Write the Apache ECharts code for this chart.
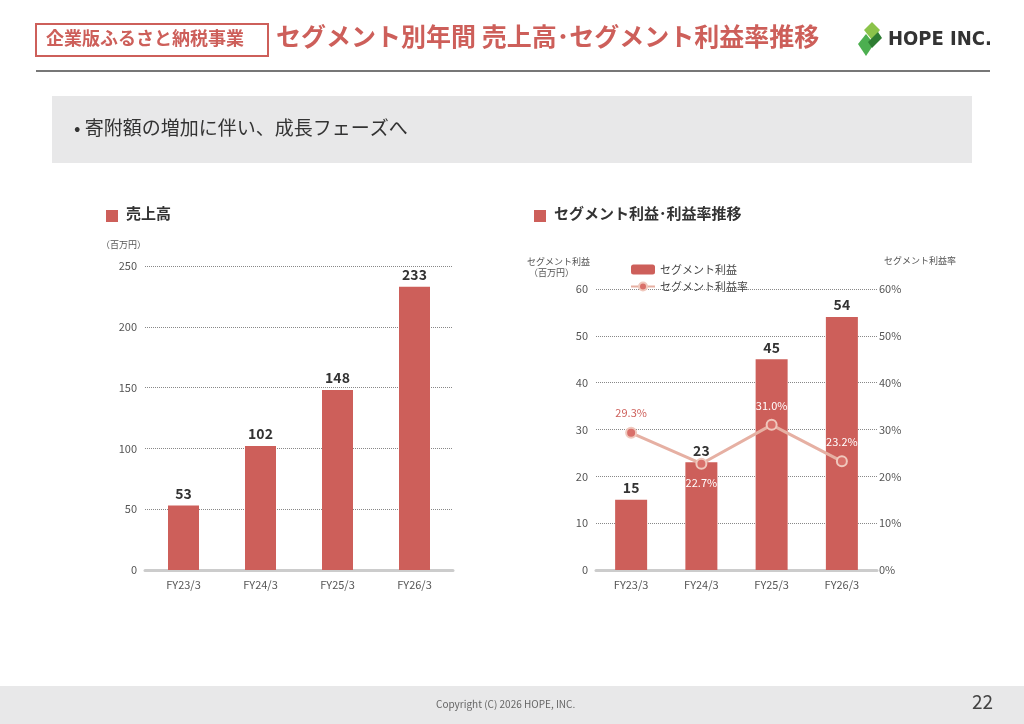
<!DOCTYPE html>
<html><head><meta charset="utf-8">
<script src="https://cdn.jsdelivr.net/npm/echarts@6/dist/echarts.min.js"></script>
<style>html,body{margin:0;padding:0;background:#fff}#c{width:1024px;height:724px}</style>
</head><body><div id="c"></div>
<script>
const categories = ['FY23/3','FY24/3','FY25/3','FY26/3'];
const sales = [53,102,148,233];
const segProfit = [15,23,45,54];
const segMargin = [29.3,22.7,31.0,23.2];
const salesTicks = [0,50,100,150,200,250];

const RED = '#cd5f5a';
const FONT = '"Noto Sans CJK JP","Noto Sans",sans-serif';
const chart = echarts.init(document.getElementById('c'));
const marginLabelCfg = [
  {position:'top', color:RED},
  {position:'bottom', color:'#fff'},
  {position:'top', color:'#fff'},
  {position:'top', color:'#fff'}
];
const axisLabel = {color:'#555', fontSize:11, fontFamily:FONT};
const splitLine = {lineStyle:{type:'dotted', color:'#888'}};
chart.setOption({
  textStyle:{fontFamily:FONT},
  graphic:[
    {type:'rect', shape:{x:36,y:24,width:232,height:32}, style:{fill:'#fff', stroke:RED, lineWidth:2}},
    {type:'text', left:46, top:29, style:{text:'企業版ふるさと納税事業', fill:RED, font:'bold 18px '+FONT}},
    {type:'text', left:276, top:24, style:{text:'セグメント別年間 売上高･セグメント利益率推移', fill:RED, font:'bold 25px '+FONT}},
    {type:'polygon', shape:{points:[[872,22],[880,30],[872,40],[864,30]]}, style:{fill:'#8bc34a'}},
    {type:'polygon', shape:{points:[[866,34],[874,44],[866,56],[858,44]]}, style:{fill:'#4caf50'}},
    {type:'polygon', shape:{points:[[878,32],[882,38],[872,48],[868,42]]}, style:{fill:'#2e7d32'}},
    {type:'text', left:888, top:30, style:{text:'HOPE INC.', fill:'#333', font:'bold 20px "DejaVu Sans Condensed",sans-serif'}},
    {type:'rect', shape:{x:36,y:70,width:954,height:2}, style:{fill:'#777'}},
    {type:'rect', shape:{x:52,y:96,width:920,height:67}, style:{fill:'#e8e8e9'}},
    {type:'text', left:74, top:118, style:{text:'• 寄附額の増加に伴い、成長フェーズへ', fill:'#333', font:'19px '+FONT}},
    {type:'rect', shape:{x:106,y:210,width:12,height:12}, style:{fill:RED}},
    {type:'text', left:126, top:206, style:{text:'売上高', fill:'#333', font:'bold 15px '+FONT}},
    {type:'text', left:101, top:240, style:{text:'（百万円）', fill:'#555', font:'9px '+FONT}},
    {type:'rect', shape:{x:534,y:210,width:12,height:12}, style:{fill:RED}},
    {type:'text', left:554, top:206, style:{text:'セグメント利益･利益率推移', fill:'#333', font:'bold 15px '+FONT}},
    {type:'text', left:527, top:256, style:{text:'セグメント利益\n （百万円）', fill:'#555', font:'9px '+FONT, lineHeight:11}},
    {type:'text', left:884, top:256, style:{text:'セグメント利益率', fill:'#555', font:'9px '+FONT}},
    {type:'rect', shape:{x:0,y:686,width:1024,height:38}, style:{fill:'#e8e8e9'}},
    {type:'text', left:436, top:699, style:{text:'Copyright (C) 2026 HOPE, INC.', fill:'#666', font:'10px '+FONT}},
    {type:'text', left:972, top:692, style:{text:'22', fill:'#444', font:'19px '+FONT}}
  ],
  legend:{left:625, top:259, orient:'vertical', itemGap:6, itemWidth:24, itemHeight:10,
    textStyle:{color:'#444', fontSize:11}, data:['セグメント利益','セグメント利益率']},
  grid:[
    {left:145, right:1024-453, top:266, bottom:724-570},
    {left:596, right:1024-877, top:289, bottom:724-570}
  ],
  xAxis:[
    {type:'category', gridIndex:0, data:categories, axisTick:{show:false},
      axisLine:{lineStyle:{color:'#ccc', width:3}}, axisLabel:Object.assign({margin:9},axisLabel)},
    {type:'category', gridIndex:1, data:categories, axisTick:{show:false},
      axisLine:{lineStyle:{color:'#ccc', width:3}}, axisLabel:Object.assign({margin:9},axisLabel)}
  ],
  yAxis:[
    {type:'value', gridIndex:0, min:0, max:250, interval:50, axisLabel:axisLabel, splitLine:splitLine},
    {type:'value', gridIndex:1, min:0, max:60, interval:10, axisLabel:axisLabel, splitLine:splitLine},
    {type:'value', gridIndex:1, min:0, max:60, interval:10, position:'right', offset:-6, axisLabel:Object.assign({formatter:'{value}%'},axisLabel), splitLine:{show:false}}
  ],
  series:[
    {type:'bar', xAxisIndex:0, yAxisIndex:0, data:sales, barWidth:31, itemStyle:{color:RED},
      label:{show:true, position:'top', color:'#333', fontWeight:'bold', fontSize:14}},
    {name:'セグメント利益', type:'bar', xAxisIndex:1, yAxisIndex:1, data:segProfit, barWidth:32, itemStyle:{color:RED},
      label:{show:true, position:'top', color:'#333', fontWeight:'bold', fontSize:14}},
    {name:'セグメント利益率', type:'line', xAxisIndex:1, yAxisIndex:2, z:5,
      data:segMargin.map((v,i)=>({value:v, label:marginLabelCfg[i]})),
      lineStyle:{color:'#e6b0a3', width:3}, symbol:'circle', symbolSize:10,
      itemStyle:{color:'#d9706a', borderColor:'#f0c8bd', borderWidth:2},
      label:{show:true, formatter:p=>p.value.toFixed(1)+'%', fontSize:11, distance:8}}
  ]
});
</script></body></html>
